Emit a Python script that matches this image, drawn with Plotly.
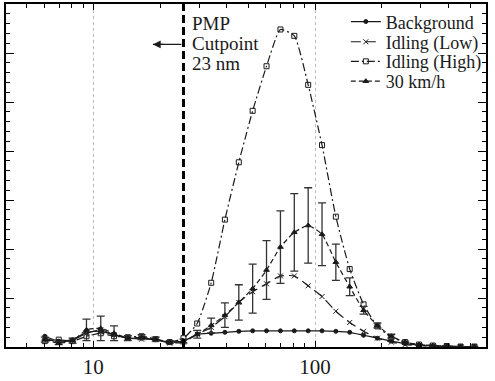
import plotly.graph_objects as go

# particle diameter bins (nm)
diameter = [6.04, 6.98, 8.06, 9.31, 10.8, 12.4, 14.3, 16.5, 19.1, 22.1, 25.5, 29.4, 34.0, 39.2,
            45.3, 52.3, 60.4, 69.8, 80.6, 93.1, 107.5, 124.1, 143.3, 165.5, 191.1, 220.7, 254.8,
            294.3, 339.8, 392.4, 453.2, 523.3]

background = [0.22, 0.12, 0.15, 0.30, 0.32, 0.25, 0.18, 0.18, 0.15, 0.10, 0.12, 0.26, 0.28, 0.30,
              0.32, 0.33, 0.33, 0.33, 0.33, 0.33, 0.33, 0.32, 0.30, 0.24, 0.18, 0.12, 0.07, 0.04,
              0.02, 0.01, 0.01, 0.01]
idling_low = [0.18, 0.10, 0.14, 0.28, 0.35, 0.25, 0.18, 0.16, 0.15, 0.08, 0.10, 0.26, 0.40, 0.62,
              0.91, 1.13, 1.29, 1.45, 1.45, 1.25, 1.03, 0.73, 0.50, 0.32, 0.18, 0.10, 0.05, 0.03,
              0.02, 0.01, 0.01, 0.01]
idling_high = [0.12, 0.15, 0.12, 0.22, 0.28, 0.22, 0.20, 0.22, 0.16, 0.10, 0.18, 0.48, 1.31, 2.60,
               3.77, 4.82, 5.73, 6.48, 6.35, 5.35, 4.12, 2.66, 1.59, 0.87, 0.42, 0.20, 0.10, 0.05,
               0.03, 0.02, 0.01, 0.01]
kmh30 = [0.15, 0.08, 0.13, 0.35, 0.38, 0.28, 0.18, 0.20, 0.16, 0.10, 0.12, 0.26, 0.44, 0.65,
         0.91, 1.19, 1.57, 2.04, 2.34, 2.48, 2.30, 1.73, 1.23, 0.75, 0.44, 0.22, 0.10, 0.05,
         0.03, 0.02, 0.01, 0.01]
kmh30_err = [0.05, 0.03, 0.05, 0.22, 0.25, 0.15, 0.05, 0.05, 0.04, 0.03, 0.04, 0.08, 0.15, 0.25,
             0.36, 0.50, 0.60, 0.74, 0.79, 0.77, 0.64, 0.37, 0.18, 0.08, 0.05, 0.04, 0.02, 0.01,
             0.01, 0.0, 0.0, 0.0]

cutpoint_line_nm = 25.5
series_names = ["Background", "Idling (Low)", "Idling (High)", "30 km/h"]
annot_lines = ["PMP", "Cutpoint", "23 nm"]

SERIF = "Liberation Serif, Times New Roman, serif"
INK = "#1a1a1a"

fig = go.Figure()
styles = [
    dict(y=background, dash="solid", sym="circle", size=4),
    dict(y=idling_low, dash="10px,5px", sym="x-thin", size=5),
    dict(y=idling_high, dash="8px,3px,2px,3px", sym="square-open", size=5),
    dict(y=kmh30, dash="5px,3px", sym="triangle-up", size=5),
]
legends = ["legend", "legend2", "legend3", "legend4"]
for i, (name, st) in enumerate(zip(series_names, styles)):
    kw = {}
    if i == 3:
        kw["error_y"] = dict(type="data", array=kmh30_err, color="#333333", thickness=1.3, width=4)
    fig.add_trace(go.Scatter(
        x=diameter, y=st["y"], name=name, mode="lines+markers",
        line=dict(color=INK, width=1.2, dash=st["dash"], shape="spline", smoothing=0.5),
        marker=dict(symbol=st["sym"], size=st["size"], color=INK,
                    line=dict(color=INK, width=1)),
        legend=legends[i], **kw))

# cutpoint line
fig.add_shape(type="line", xref="x", yref="paper", x0=cutpoint_line_nm, x1=cutpoint_line_nm,
              y0=0, y1=1, line=dict(color="black", width=3, dash="8px,4px"))

for j, t in enumerate(annot_lines):
    fig.add_annotation(text=t, xref="paper", yref="paper", x=0.383, y=0.943 - j * 0.058,
                       xanchor="left", yanchor="middle", showarrow=False,
                       font=dict(family=SERIF, size=19, color=INK))
fig.add_annotation(xref="paper", yref="paper", x=0.306, y=0.882, ax=30, ay=0,
                   text="", showarrow=True,
                   arrowhead=0, arrowwidth=1.2, arrowcolor=INK, standoff=0)
fig.add_annotation(xref="paper", yref="paper", x=0.306, y=0.882, ax=12, ay=0,
                   text="", showarrow=True,
                   arrowhead=2, arrowsize=1.3, arrowwidth=1.2, arrowcolor=INK, standoff=0)

leg_y = [0.948, 0.889, 0.832, 0.774]
layout_legends = {}
for i, lg in enumerate(legends):
    layout_legends[lg] = dict(x=0.708, y=leg_y[i], xanchor="left", yanchor="middle",
                              bgcolor="rgba(0,0,0,0)", borderwidth=0,
                              font=dict(family=SERIF, size=18, color=INK))

fig.update_layout(
    width=495, height=381,
    margin=dict(l=6, r=9, t=2, b=32),
    plot_bgcolor="white", paper_bgcolor="white",
    showlegend=True,
    font=dict(family=SERIF, color=INK),
    **layout_legends,
)
fig.update_xaxes(type="log", range=[0.606, 2.771], showline=True, linecolor="black", linewidth=2,
                 mirror="ticks", ticks="inside", ticklen=6, tickcolor="black",
                 tickvals=[10, 100], ticktext=["10", "100"],
                 tickfont=dict(family=SERIF, size=21, color=INK),
                 showgrid=True, gridcolor="#bbbbbb", griddash="dot", gridwidth=1,
                 minor=dict(tickvals=[4, 5, 6, 7, 8, 9, 20, 30, 40, 50, 60, 70, 80, 90, 200, 300, 400, 500],
                            ticks="inside", ticklen=4, tickcolor="black", showgrid=False),
                 zeroline=False)
fig.update_yaxes(range=[0, 7], showline=True, linecolor="black", linewidth=2,
                 mirror="ticks", ticks="inside", ticklen=8, tickcolor="black", dtick=1,
                 showticklabels=False, showgrid=False, zeroline=False,
                 minor=dict(dtick=0.2, ticks="inside", ticklen=4, tickcolor="black"))

fig.write_html("out.html")
